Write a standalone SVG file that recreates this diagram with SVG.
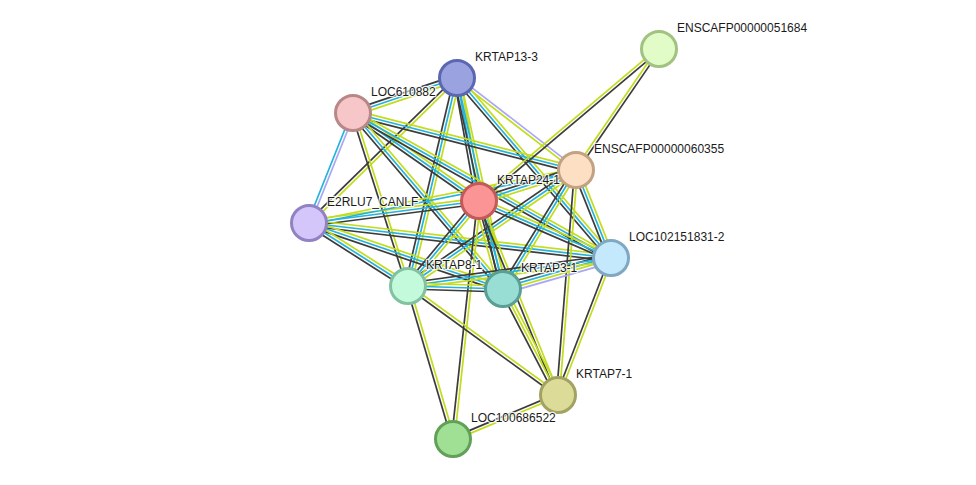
<svg xmlns="http://www.w3.org/2000/svg" width="976" height="485" viewBox="0 0 976 485">
<style>
line{stroke-width:1.7;fill:none}
.t{stroke:#c3dc1e}
.d{stroke:#24b3dc}
.c{stroke:#3c3c3c}
.h{stroke:#a8a8f6}
.n circle{stroke-width:3}
text{font-family:"Liberation Sans",Arial,sans-serif;font-size:12px;fill:#1a1a1a;stroke:#ffffff;stroke-width:2.5;stroke-opacity:0.85;paint-order:stroke;stroke-linejoin:round}
</style>
<rect width="976" height="485" fill="#ffffff"/>
<g id="edges">
<g transform="translate(457,78) rotate(161.4)"><line class="t" x2="109.7" y1="-3" y2="-3"/><line class="d" x2="109.7"/><line class="c" x2="109.7" y1="3" y2="3"/></g>
<g transform="translate(457,78) rotate(135.6)"><line class="t" x2="207.2" y1="-1.5" y2="-1.5"/><line class="c" x2="207.2" y1="1.5" y2="1.5"/></g>
<g transform="translate(457,78) rotate(79.86)"><line class="t" x2="125" y1="-3" y2="-3"/><line class="d" x2="125"/><line class="c" x2="125" y1="3" y2="3"/></g>
<g transform="translate(457,78) rotate(103.26)"><line class="t" x2="213.7" y1="-3" y2="-3"/><line class="d" x2="213.7"/><line class="c" x2="213.7" y1="3" y2="3"/></g>
<g transform="translate(457,78) rotate(77.7)"><line class="t" x2="216" y1="-3" y2="-3"/><line class="d" x2="216"/><line class="c" x2="216" y1="3" y2="3"/></g>
<g transform="translate(457,78) rotate(37.71)"><line class="h" x2="150.4" y1="-1.5" y2="-1.5"/><line class="t" x2="150.4" y1="1.5" y2="1.5"/></g>
<g transform="translate(457,78) rotate(49.45)"><line class="t" x2="236.9" y1="-3" y2="-3"/><line class="d" x2="236.9"/><line class="c" x2="236.9" y1="3" y2="3"/></g>
<g transform="translate(353,113) rotate(111.8)"><line class="h" x2="118.5" y1="-1.5" y2="-1.5"/><line class="d" x2="118.5" y1="1.5" y2="1.5"/></g>
<g transform="translate(353,113) rotate(14.34)"><line class="t" x2="230.2" y1="-3" y2="-3"/><line class="d" x2="230.2"/><line class="c" x2="230.2" y1="3" y2="3"/></g>
<g transform="translate(353,113) rotate(34.93)"><line class="t" x2="153.7" y1="-3" y2="-3"/><line class="d" x2="153.7"/><line class="c" x2="153.7" y1="3" y2="3"/></g>
<g transform="translate(353,113) rotate(29.34)"><line class="t" x2="296" y1="-3" y2="-3"/><line class="d" x2="296"/><line class="c" x2="296" y1="3" y2="3"/></g>
<g transform="translate(353,113) rotate(49.56)"><line class="t" x2="231.3" y1="-3" y2="-3"/><line class="d" x2="231.3"/><line class="c" x2="231.3" y1="3" y2="3"/></g>
<g transform="translate(353,113) rotate(72.36)"><line class="t" x2="181.5" y1="-1.5" y2="-1.5"/><line class="c" x2="181.5" y1="1.5" y2="1.5"/></g>
<g transform="translate(309,223) rotate(-7.37)"><line class="t" x2="171.4" y1="-3" y2="-3"/><line class="d" x2="171.4"/><line class="c" x2="171.4" y1="3" y2="3"/></g>
<g transform="translate(309,223) rotate(-11.23)"><line class="t" x2="272.2" y1="-1.5" y2="-1.5"/><line class="d" x2="272.2" y1="1.5" y2="1.5"/></g>
<g transform="translate(309,223) rotate(6.61)"><line class="t" x2="304" y1="-3" y2="-3"/><line class="d" x2="304"/><line class="c" x2="304" y1="3" y2="3"/></g>
<g transform="translate(309,223) rotate(18.79)"><line class="t" x2="204.9" y1="-3" y2="-3"/><line class="d" x2="204.9"/><line class="c" x2="204.9" y1="3" y2="3"/></g>
<g transform="translate(309,223) rotate(32.47)"><line class="t" x2="117.3" y1="-3" y2="-3"/><line class="d" x2="117.3"/><line class="c" x2="117.3" y1="3" y2="3"/></g>
<g transform="translate(576,170) rotate(-55.55)"><line class="t" x2="146.7" y1="-1.5" y2="-1.5"/><line class="c" x2="146.7" y1="1.5" y2="1.5"/></g>
<g transform="translate(576,170) rotate(162.28)"><line class="t" x2="101.8" y1="-3" y2="-3"/><line class="d" x2="101.8"/><line class="c" x2="101.8" y1="3" y2="3"/></g>
<g transform="translate(576,170) rotate(68.3)"><line class="t" x2="94.7" y1="-3" y2="-3"/><line class="d" x2="94.7"/><line class="c" x2="94.7" y1="3" y2="3"/></g>
<g transform="translate(576,170) rotate(145.37)"><line class="t" x2="204.2" y1="-3" y2="-3"/><line class="d" x2="204.2"/><line class="c" x2="204.2" y1="3" y2="3"/></g>
<g transform="translate(576,170) rotate(121.53)"><line class="t" x2="139.6" y1="-3" y2="-3"/><line class="d" x2="139.6"/><line class="c" x2="139.6" y1="3" y2="3"/></g>
<g transform="translate(576,170) rotate(94.57)"><line class="t" x2="225.7" y1="-1.5" y2="-1.5"/><line class="c" x2="225.7" y1="1.5" y2="1.5"/></g>
<g transform="translate(479,201) rotate(-40.18)"><line class="t" x2="235.6" y1="-1.5" y2="-1.5"/><line class="c" x2="235.6" y1="1.5" y2="1.5"/></g>
<g transform="translate(479,201) rotate(23.36)"><line class="t" x2="143.8" y1="-3" y2="-3"/><line class="d" x2="143.8"/><line class="c" x2="143.8" y1="3" y2="3"/></g>
<g transform="translate(479,201) rotate(129.87)"><line class="t" x2="110.8" y1="-3" y2="-3"/><line class="d" x2="110.8"/><line class="c" x2="110.8" y1="3" y2="3"/></g>
<g transform="translate(479,201) rotate(74.74)"><line class="t" x2="91.2" y1="-4.5" y2="-4.5"/><line class="d" x2="91.2" y1="-1.5" y2="-1.5"/><line class="c" x2="91.2" y1="1.5" y2="1.5"/><line class="t" x2="91.2" y1="4.5" y2="4.5"/></g>
<g transform="translate(479,201) rotate(67.84)"><line class="t" x2="209.5" y1="-1.5" y2="-1.5"/><line class="c" x2="209.5" y1="1.5" y2="1.5"/></g>
<g transform="translate(479,201) rotate(96.23)"><line class="t" x2="239.4" y1="-1.5" y2="-1.5"/><line class="c" x2="239.4" y1="1.5" y2="1.5"/></g>
<g transform="translate(611,258) rotate(163.98)"><line class="h" x2="112.4" y1="-4.5" y2="-4.5"/><line class="t" x2="112.4" y1="-1.5" y2="-1.5"/><line class="d" x2="112.4" y1="1.5" y2="1.5"/><line class="c" x2="112.4" y1="4.5" y2="4.5"/></g>
<g transform="translate(611,258) rotate(172.15)"><line class="t" x2="204.9" y1="-3" y2="-3"/><line class="d" x2="204.9"/><line class="c" x2="204.9" y1="3" y2="3"/></g>
<g transform="translate(611,258) rotate(111.15)"><line class="t" x2="146.9" y1="-1.5" y2="-1.5"/><line class="c" x2="146.9" y1="1.5" y2="1.5"/></g>
<g transform="translate(408,286) rotate(1.81)"><line class="t" x2="95" y1="-3" y2="-3"/><line class="d" x2="95"/><line class="c" x2="95" y1="3" y2="3"/></g>
<g transform="translate(408,286) rotate(36)"><line class="t" x2="185.4" y1="-1.5" y2="-1.5"/><line class="c" x2="185.4" y1="1.5" y2="1.5"/></g>
<g transform="translate(408,286) rotate(73.61)"><line class="t" x2="159.5" y1="-1.5" y2="-1.5"/><line class="c" x2="159.5" y1="1.5" y2="1.5"/></g>
<g transform="translate(503,289) rotate(62.57)"><line class="t" x2="119.4" y1="-3" y2="-3"/><line class="t" x2="119.4"/><line class="c" x2="119.4" y1="3" y2="3"/></g>
<g transform="translate(558,395) rotate(157.26)"><line class="t" x2="113.8" y1="-1.5" y2="-1.5"/><line class="c" x2="113.8" y1="1.5" y2="1.5"/></g>
</g>
<g id="KRTAP13-3" class="n"><circle cx="457" cy="78" r="17.5" fill="#9aa3e0" stroke="#5c67b2"/><text x="475" y="61">KRTAP13-3</text></g>
<g id="LOC610882" class="n"><circle cx="353" cy="113" r="17.5" fill="#f7c6c8" stroke="#b88888"/><text x="371" y="96">LOC610882</text></g>
<g id="ENSCAFP00000051684" class="n"><circle cx="659" cy="49" r="17.5" fill="#e2fcc8" stroke="#a2c282"/><text x="677" y="32">ENSCAFP00000051684</text></g>
<g id="ENSCAFP00000060355" class="n"><circle cx="576" cy="170" r="17.5" fill="#fde0c4" stroke="#c2a282"/><text x="594" y="153">ENSCAFP00000060355</text></g>
<g id="KRTAP24-1" class="n"><circle cx="479" cy="201" r="17.5" fill="#fb9494" stroke="#c25a5a"/><text x="497" y="184">KRTAP24-1</text></g>
<g id="E2RLU7_CANLF" class="n"><circle cx="309" cy="223" r="17.5" fill="#d4c6fa" stroke="#9282c4"/><text x="327" y="206">E2RLU7_CANLF</text></g>
<g id="LOC102151831-2" class="n"><circle cx="611" cy="258" r="17.5" fill="#c4e8fc" stroke="#80a8c2"/><text x="629" y="241">LOC102151831-2</text></g>
<g id="KRTAP8-1" class="n"><circle cx="408" cy="286" r="17.5" fill="#c4fadc" stroke="#82c2a2"/><text x="426" y="269">KRTAP8-1</text></g>
<g id="KRTAP3-1" class="n"><circle cx="503" cy="289" r="17.5" fill="#98ded4" stroke="#5a9e94"/><text x="521" y="272">KRTAP3-1</text></g>
<g id="KRTAP7-1" class="n"><circle cx="558" cy="395" r="17.5" fill="#dcdb98" stroke="#a2a262"/><text x="576" y="378">KRTAP7-1</text></g>
<g id="LOC100686522" class="n"><circle cx="453" cy="439" r="17.5" fill="#a0e094" stroke="#60a058"/><text x="471" y="422">LOC100686522</text></g>
</svg>
